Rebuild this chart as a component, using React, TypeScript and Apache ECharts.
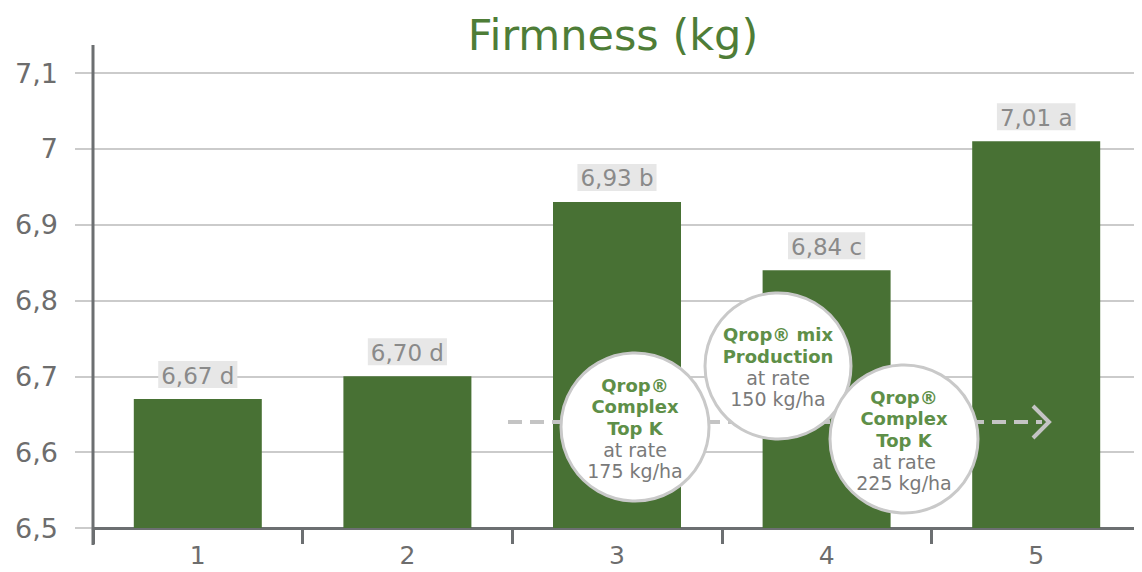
import React, { useEffect, useRef } from "react";
import * as echarts from "echarts";

const categories = ["1", "2", "3", "4", "5"];
const firmness = [6.67, 6.7, 6.93, 6.84, 7.01];
const letters = ["d", "d", "b", "c", "a"];
const yTicks = { min: 6.5, max: 7.1, interval: 0.1 };
const circleNotes = [
  { green: ["Qrop®", "Complex", "Top K"], grey: ["at rate", "175 kg/ha"] },
  { green: ["Qrop® mix", "Production"], grey: ["at rate", "150 kg/ha"] },
  { green: ["Qrop®", "Complex", "Top K"], grey: ["at rate", "225 kg/ha"] },
];

const fmt = (v: number, digits: number) => v.toFixed(digits).replace(".", ",");

export default function App() {
  const ref = useRef<HTMLDivElement>(null);
  useEffect(() => {
    const chart = echarts.init(ref.current!, undefined, { renderer: "svg" });
    const GREEN = "#487134";
    const LINE = "#cbcbcb";
    const AXIS = "#6c6f71";
    const font = "'DejaVu Sans', 'Liberation Sans', sans-serif";

    const circlePos = [
      { x: 635, y: 427, r: 74 },
      { x: 778, y: 366, r: 73 },
      { x: 904, y: 439, r: 74 },
    ];

    const circles: any[] = circleNotes.map((n, i) => {
      const p = circlePos[i];
      const text =
        n.green.map((t) => `{g|${t}}`).join("\n") +
        "\n" +
        n.grey.map((t) => `{k|${t}}`).join("\n");
      return {
        type: "group",
        children: [
          {
            type: "circle",
            z: 20 + i * 2,
            shape: { cx: p.x, cy: p.y, r: p.r },
            style: { fill: "#ffffff", stroke: "#c9c9c9", lineWidth: 3 },
          },
          {
            type: "text",
            z: 21 + i * 2,
            x: p.x,
            y: p.y + 1,
            style: {
              text,
              align: "center",
              verticalAlign: "middle",
              rich: {
                g: { fontFamily: font, fontSize: 18, fontWeight: "bold", fill: "#5e8f48", lineHeight: 21.5, align: "center" },
                k: { fontFamily: font, fontSize: 19, fontWeight: 400, fill: "#7a7a7a", lineHeight: 21.5, align: "center" },
              },
            },
          },
        ],
      };
    });

    chart.setOption({
      animation: false,
      title: {
        text: "Firmness (kg)",
        left: 608,
        top: 8,
        textAlign: "center",
        textStyle: { fontFamily: font, fontSize: 43, fontWeight: 400, color: "#4e7d37" },
      },
      grid: { left: 93, right: 1, top: 73, bottom: 44, containLabel: false },
      xAxis: {
        type: "category",
        data: categories,
        axisLine: { lineStyle: { color: AXIS, width: 3 } },
        axisTick: { show: true, alignWithLabel: false, length: 16, lineStyle: { color: AXIS, width: 3 } },
        axisLabel: { fontFamily: font, fontSize: 25, color: "#6d6d6d", margin: 15 },
      },
      yAxis: {
        type: "value",
        min: yTicks.min,
        max: yTicks.max,
        interval: yTicks.interval,
        axisLine: { show: false },
        axisTick: { show: true, length: 18, lineStyle: { color: LINE, width: 2 } },
        splitLine: { show: true, lineStyle: { color: LINE, width: 2 } },
        axisLabel: {
          fontFamily: font,
          fontSize: 27,
          color: "#6d6d6d",
          margin: 35,
          formatter: (v: number) => {
            const r = Math.round(v * 10) / 10;
            return Number.isInteger(r) ? String(r) : fmt(r, 1);
          },
        },
      },
      series: [
        {
          type: "bar",
          data: firmness,
          barWidth: 128,
          itemStyle: { color: GREEN },
          label: {
            show: true,
            position: "top",
            distance: 11,
            fontFamily: font,
            fontSize: 23,
            color: "#8a8a8a",
            backgroundColor: "#e7e7e7",
            padding: [3, 3, 1, 3],
            formatter: (p: any) => `${fmt(firmness[p.dataIndex], 2)} ${letters[p.dataIndex]}`,
          },
        },
      ],
      graphic: [
        {
          type: "line",
          z: 5,
          shape: { x1: 93, y1: 45, x2: 93, y2: 545 },
          style: { stroke: AXIS, lineWidth: 3 },
        },
        {
          type: "line",
          z: 10,
          shape: { x1: 508, y1: 422, x2: 1042, y2: 422 },
          style: { stroke: "#c4c4c4", lineWidth: 4, lineDash: [14, 8] },
        },
        {
          type: "polyline",
          z: 10,
          shape: { points: [[1033, 406], [1049, 422], [1033, 438]] },
          style: { stroke: "#c4c4c4", lineWidth: 4, fill: "none" },
        },
        ...circles,
      ],
    });
    return () => chart.dispose();
  }, []);
  return <div ref={ref} style={{ width: 1142, height: 572, margin: -8 }} />;
}
